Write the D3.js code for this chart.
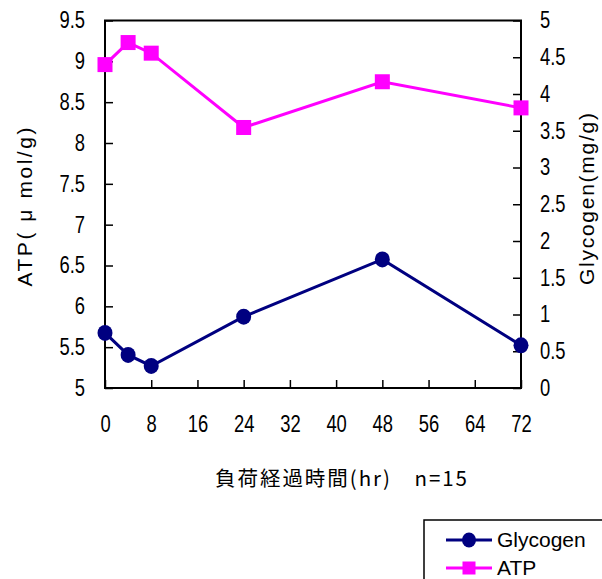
<!DOCTYPE html>
<html>
<head>
<meta charset="utf-8">
<script src="https://cdn.jsdelivr.net/npm/d3@7"></script>
<style>
  body { margin: 0; background: #fff; }
  svg { display: block; }
</style>
</head>
<body>
<svg id="chart" width="602" height="579"></svg>
<script>
// Hours after load
const hours = [0, 4, 8, 24, 48, 72];
// ATP (μmol/g), left axis
const atp = [8.96, 9.23, 9.10, 8.19, 8.75, 8.43];
// Glycogen (mg/g), right axis
const glycogen = [0.75, 0.45, 0.30, 0.97, 1.75, 0.58];

const xTicks = [0, 8, 16, 24, 32, 40, 48, 56, 64, 72];
const leftTicks = [5, 5.5, 6, 6.5, 7, 7.5, 8, 8.5, 9, 9.5];
const rightTicks = [0, 0.5, 1, 1.5, 2, 2.5, 3, 3.5, 4, 4.5, 5];

const xTitle = "負荷経過時間(hr)　n=15";
const leftTitle = "ATP( μ mol/g)";
const rightTitle = "Glycogen(mg/g)";

const numFont = "'Liberation Sans', Arial, sans-serif";
const jpFont = "'Noto Sans CJK JP', sans-serif";

const svg = d3.select("#chart");
const L = 105, R = 521, T = 20.5, B = 388;

const x = d3.scaleLinear().domain([0, 72]).range([L, R]);
const yL = d3.scaleLinear().domain([5, 9.5]).range([B, T]);
const yR = d3.scaleLinear().domain([0, 5]).range([B, T]);

// squeeze a text element horizontally so it reads as a condensed face
function condense(sel, k) {
  sel.each(function () {
    const w = this.getComputedTextLength();
    d3.select(this).attr("textLength", w * k).attr("lengthAdjust", "spacingAndGlyphs");
  });
}

// plot frame
svg.append("rect")
  .attr("x", L).attr("y", T).attr("width", R - L).attr("height", B - T)
  .attr("fill", "none").attr("stroke", "#000").attr("stroke-width", 2);

function styleAxis(g) {
  g.select(".domain").remove();
  g.selectAll(".tick line").attr("stroke", "#000").attr("stroke-width", 1.5);
  g.selectAll(".tick text")
    .attr("fill", "#000")
    .style("font-family", numFont)
    .style("font-size", "23px")
    .call(condense, 0.8);
}

// bottom axis, ticks pointing inward
svg.append("g")
  .attr("transform", `translate(0,${B})`)
  .call(d3.axisBottom(x).tickValues(xTicks).tickSizeInner(-8).tickSizeOuter(0).tickPadding(28))
  .call(styleAxis);

// left axis
svg.append("g")
  .attr("transform", `translate(${L},0)`)
  .call(d3.axisLeft(yL).tickValues(leftTicks).tickFormat(d3.format("")).tickSizeInner(-8).tickSizeOuter(0).tickPadding(20))
  .call(styleAxis);

// right axis
svg.append("g")
  .attr("transform", `translate(${R},0)`)
  .call(d3.axisRight(yR).tickValues(rightTicks).tickFormat(d3.format("")).tickSizeInner(-8).tickSizeOuter(0).tickPadding(19))
  .call(styleAxis);

// axis titles
svg.append("text")
  .attr("transform", `translate(32,207) rotate(-90)`)
  .attr("text-anchor", "middle")
  .attr("textLength", 159).attr("lengthAdjust", "spacing")
  .style("font-family", numFont).style("font-size", "21px")
  .text(leftTitle);

svg.append("text")
  .attr("transform", `translate(594,199) rotate(-90)`)
  .attr("text-anchor", "middle")
  .attr("textLength", 172).attr("lengthAdjust", "spacing")
  .style("font-family", numFont).style("font-size", "21px")
  .text(rightTitle);

svg.append("text")
  .attr("x", 341).attr("y", 486)
  .attr("text-anchor", "middle")
  .attr("textLength", 252).attr("lengthAdjust", "spacing")
  .style("font-family", jpFont).style("font-size", "20.5px")
  .text(xTitle);

// series
const glyData = hours.map((h, i) => ({ h, v: glycogen[i] }));
const atpData = hours.map((h, i) => ({ h, v: atp[i] }));

svg.append("path")
  .datum(glyData)
  .attr("fill", "none").attr("stroke", "#000080").attr("stroke-width", 3)
  .attr("d", d3.line().x(d => x(d.h)).y(d => yR(d.v)));

svg.selectAll(".gly").data(glyData).join("ellipse")
  .attr("cx", d => x(d.h)).attr("cy", d => yR(d.v))
  .attr("rx", 7.5).attr("ry", 8)
  .attr("fill", "#000080");

svg.append("path")
  .datum(atpData)
  .attr("fill", "none").attr("stroke", "#FF00FF").attr("stroke-width", 3)
  .attr("d", d3.line().x(d => x(d.h)).y(d => yL(d.v)));

const sq = 15;
svg.selectAll(".atp").data(atpData).join("rect")
  .attr("x", d => x(d.h) - sq / 2).attr("y", d => yL(d.v) - sq / 2)
  .attr("width", sq).attr("height", sq)
  .attr("fill", "#FF00FF");

// legend
const lg = svg.append("g");
lg.append("rect")
  .attr("x", 424).attr("y", 520).attr("width", 200).attr("height", 80)
  .attr("fill", "#fff").attr("stroke", "#000").attr("stroke-width", 1.5);

const legendItems = [
  { name: "Glycogen", color: "#000080", shape: "circle" },
  { name: "ATP", color: "#FF00FF", shape: "square" }
];
legendItems.forEach((it, i) => {
  const cy = 540 + i * 28;
  lg.append("line")
    .attr("x1", 446).attr("x2", 492).attr("y1", cy).attr("y2", cy)
    .attr("stroke", it.color).attr("stroke-width", 3);
  if (it.shape === "circle") {
    lg.append("ellipse").attr("cx", 469).attr("cy", cy).attr("rx", 7).attr("ry", 7.5).attr("fill", it.color);
  } else {
    lg.append("rect").attr("x", 469 - 6.5).attr("y", cy - 6.5).attr("width", 13).attr("height", 13).attr("fill", it.color);
  }
  lg.append("text")
    .attr("x", 497).attr("y", cy + 7)
    .style("font-family", numFont).style("font-size", "21px")
    .text(it.name);
});
</script>
</body>
</html>
